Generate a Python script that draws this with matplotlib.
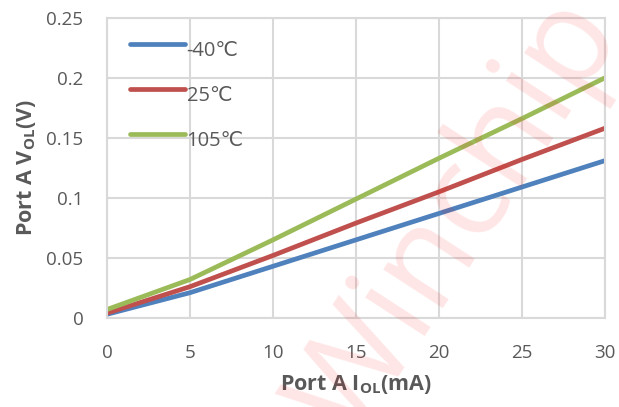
import matplotlib.pyplot as plt

plt.rcParams['font.family'] = ['Open Sans', 'DejaVu Sans']
plt.rcParams['mathtext.fontset'] = 'custom'
plt.rcParams['mathtext.bf'] = 'Open Sans:bold'
plt.rcParams['mathtext.rm'] = 'Open Sans'

# Port A output low current (mA)
current = [0, 5, 10, 15, 20, 25, 30]

# VOL (V) per temperature
labels = ['-40℃', '25℃', '105℃']
vol_m40 = [0.003, 0.021, 0.043, 0.065, 0.087, 0.109, 0.131]
vol_25 = [0.004, 0.026, 0.052, 0.079, 0.105, 0.132, 0.158]
vol_105 = [0.007, 0.032, 0.065, 0.099, 0.133, 0.166, 0.200]

colors = ['#4f81bd', '#c0504d', '#9bbb59']
text_color = '#595959'

fig = plt.figure(figsize=(6.19, 4.07), dpi=100)
ax = fig.add_axes([0.173, 0.219, 0.804, 0.737])

for vals, label, c in zip([vol_m40, vol_25, vol_105], labels, colors):
    ax.plot(current, vals, color=c, lw=3.4, label=label, solid_capstyle='round')

ax.set_xlim(0, 30)
ax.set_ylim(0, 0.25)
ax.set_xticks([0, 5, 10, 15, 20, 25, 30])
ax.set_yticks([0, 0.05, 0.1, 0.15, 0.2, 0.25])
ax.set_yticklabels(['0', '0.05', '0.1', '0.15', '0.2', '0.25'])
ax.grid(True, color='#d9d9d9', lw=1.5)
ax.set_axisbelow(True)
for s in ax.spines.values():
    s.set_color('#d9d9d9')
    s.set_linewidth(1.5)
ax.tick_params(length=0, labelsize=13.5, colors=text_color)
ax.tick_params(axis='y', pad=17)
ax.tick_params(axis='x', pad=19)

ax.set_xlabel(r'Port A I$_{\mathbf{OL}}$(mA)', fontsize=15.5, fontweight='bold',
              color=text_color, labelpad=8)
ax.set_ylabel(r'Port A V$_{\mathbf{OL}}$(V)', fontsize=15.5, fontweight='bold',
              color=text_color, labelpad=6)

leg = ax.legend(loc='upper left', frameon=False, fontsize=14.5, handlelength=2.7,
                handletextpad=0.1, labelspacing=1.25, bbox_to_anchor=(0.01, 1.0))
for t in leg.get_texts():
    t.set_color(text_color)
    t.set_va('center')

# faint watermark
fig.text(0.74, 0.46, 'Winchip', fontsize=95, color='red', alpha=0.1,
         rotation=57, ha='center', va='center')

fig.savefig('out.png', dpi=100)
